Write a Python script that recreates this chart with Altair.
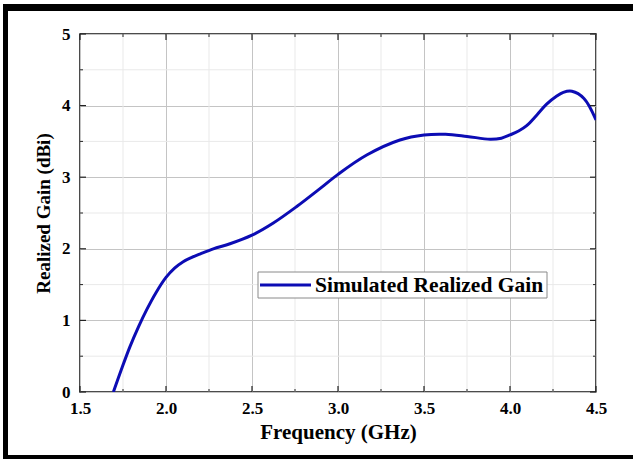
import altair as alt
import pandas as pd

# ---- data ----
freq = [1.694, 1.74, 1.79, 1.84, 1.888, 1.94, 2.0, 2.05, 2.1, 2.15, 2.2, 2.275,
        2.372, 2.5, 2.624, 2.76, 2.895, 3.0, 3.167, 3.36, 3.5, 3.625, 3.75,
        3.884, 3.95, 4.0, 4.05, 4.097, 4.16, 4.213, 4.27, 4.31, 4.36, 4.43, 4.5]
gain = [0.0, 0.31, 0.63, 0.91, 1.15, 1.38, 1.60, 1.73, 1.82, 1.88, 1.93, 2.0,
        2.07, 2.19, 2.36, 2.59, 2.84, 3.04, 3.31, 3.52, 3.59, 3.60, 3.57,
        3.53, 3.545, 3.59, 3.645, 3.72, 3.88, 4.02, 4.13, 4.185, 4.20, 4.10, 3.80]
series_name = "Simulated Realized Gain"

x_major = [1.5, 2.0, 2.5, 3.0, 3.5, 4.0, 4.5]
x_minor = [1.75, 2.25, 2.75, 3.25, 3.75, 4.25]
y_major = [0, 1, 2, 3, 4, 5]
y_minor = [0.5, 1.5, 2.5, 3.5, 4.5]

W, H = 516, 358
FONT = "Liberation Serif"
LINE_COLOR = "#0c0cb4"

df = pd.DataFrame({"freq": freq, "gain": gain, "series": series_name})
dxmaj = pd.DataFrame({"v": x_major})
dxmin = pd.DataFrame({"v": x_minor})
dymaj = pd.DataFrame({"v": y_major})
dymin = pd.DataFrame({"v": y_minor})
dleg = pd.DataFrame({"label": [series_name]})
done = pd.DataFrame({"a": [0]})

xscale = alt.Scale(domain=[1.5, 4.5], nice=False, zero=False)
yscale = alt.Scale(domain=[0, 5], nice=False, zero=False)

# minor grid
minor_x = alt.Chart(dxmin).mark_rule(color="#e9e9e9", strokeWidth=1).encode(
    x=alt.X("v:Q", scale=xscale))
minor_y = alt.Chart(dymin).mark_rule(color="#e9e9e9", strokeWidth=1).encode(
    y=alt.Y("v:Q", scale=yscale))

line = alt.Chart(df).mark_line(strokeWidth=3, interpolate="catmull-rom", clip=True,
                               color=LINE_COLOR).encode(
    x=alt.X("freq:Q", scale=xscale,
            axis=alt.Axis(values=x_major, format=".1f", title="Frequency (GHz)",
                          grid=True, gridColor="#c4c4c4", gridWidth=1,
                          ticks=False, domain=False, labelPadding=8,
                          labelFont=FONT, labelFontWeight="bold", labelFontSize=17,
                          labelColor="black", titleFont=FONT, titleFontWeight="bold",
                          titleFontSize=21, titleColor="black", titlePadding=5,
                          labelFlush=False)),
    y=alt.Y("gain:Q", scale=yscale,
            axis=alt.Axis(values=y_major, format="d", title="Realized Gain (dBi)",
                          grid=True, gridColor="#c4c4c4", gridWidth=1,
                          ticks=False, domain=False, labelPadding=10,
                          labelFont=FONT, labelFontWeight="bold", labelFontSize=17,
                          labelColor="black", titleFont=FONT, titleFontWeight="bold",
                          titleFontSize=19, titleColor="black", titlePadding=8,
                          labelFlush=False)),
)

# inward ticks
tick_color = "#222222"
bx_maj = alt.Chart(dxmaj).mark_rule(color=tick_color, strokeWidth=1.2).encode(
    x=alt.X("v:Q", scale=xscale), y=alt.value(H), y2=alt.value(H - 6))
bx_min = alt.Chart(dxmin).mark_rule(color=tick_color, strokeWidth=1).encode(
    x=alt.X("v:Q", scale=xscale), y=alt.value(H), y2=alt.value(H - 3))
tx_maj = alt.Chart(dxmaj).mark_rule(color=tick_color, strokeWidth=1.2).encode(
    x=alt.X("v:Q", scale=xscale), y=alt.value(0), y2=alt.value(6))
tx_min = alt.Chart(dxmin).mark_rule(color=tick_color, strokeWidth=1).encode(
    x=alt.X("v:Q", scale=xscale), y=alt.value(0), y2=alt.value(3))
ly_maj = alt.Chart(dymaj).mark_rule(color=tick_color, strokeWidth=1.2).encode(
    y=alt.Y("v:Q", scale=yscale), x=alt.value(0), x2=alt.value(6))
ly_min = alt.Chart(dymin).mark_rule(color=tick_color, strokeWidth=1).encode(
    y=alt.Y("v:Q", scale=yscale), x=alt.value(0), x2=alt.value(3))
ry_maj = alt.Chart(dymaj).mark_rule(color=tick_color, strokeWidth=1.2).encode(
    y=alt.Y("v:Q", scale=yscale), x=alt.value(W), x2=alt.value(W - 6))
ry_min = alt.Chart(dymin).mark_rule(color=tick_color, strokeWidth=1).encode(
    y=alt.Y("v:Q", scale=yscale), x=alt.value(W), x2=alt.value(W - 3))

# legend box (drawn by hand)
leg_box = alt.Chart(dleg).mark_rect(fill="white", stroke="#8a8a8a", strokeWidth=1).encode(
    x=alt.value(178), x2=alt.value(467), y=alt.value(238), y2=alt.value(264))
leg_line = alt.Chart(dleg).mark_rule(color=LINE_COLOR, strokeWidth=3).encode(
    x=alt.value(180), x2=alt.value(231), y=alt.value(251))
leg_text = alt.Chart(dleg).mark_text(font=FONT, fontWeight="bold", fontSize=21.5,
                                     color="black", align="left", baseline="middle").encode(
    x=alt.value(235), y=alt.value(252), text="label:N")

# outer black frame of the figure (left, top, bottom edges)
fr_left = alt.Chart(done).mark_rule(color="black", strokeWidth=5, clip=False).encode(
    x=alt.value(-74.5), y=alt.value(-30), y2=alt.value(H + 70))
fr_top = alt.Chart(done).mark_rule(color="black", strokeWidth=7, clip=False).encode(
    x=alt.value(-77), x2=alt.value(W + 60), y=alt.value(-26.5))
fr_bot = alt.Chart(done).mark_rule(color="black", strokeWidth=6, clip=False).encode(
    x=alt.value(-77), x2=alt.value(W + 60), y=alt.value(H + 66))

chart = alt.layer(
    minor_x, minor_y, line, bx_maj, bx_min, tx_maj, tx_min,
    ly_maj, ly_min, ry_maj, ry_min, leg_box, leg_line, leg_text,
    fr_left, fr_top, fr_bot
).properties(
    width=W, height=H,
    autosize=alt.AutoSizeParams(type="none"),
    padding={"left": 80, "top": 34, "right": 37, "bottom": 67},
    background="white",
).configure_view(
    stroke="#111111", strokeWidth=1.5
)

chart.save("out.html", embed_options={"renderer": "svg", "actions": False})
